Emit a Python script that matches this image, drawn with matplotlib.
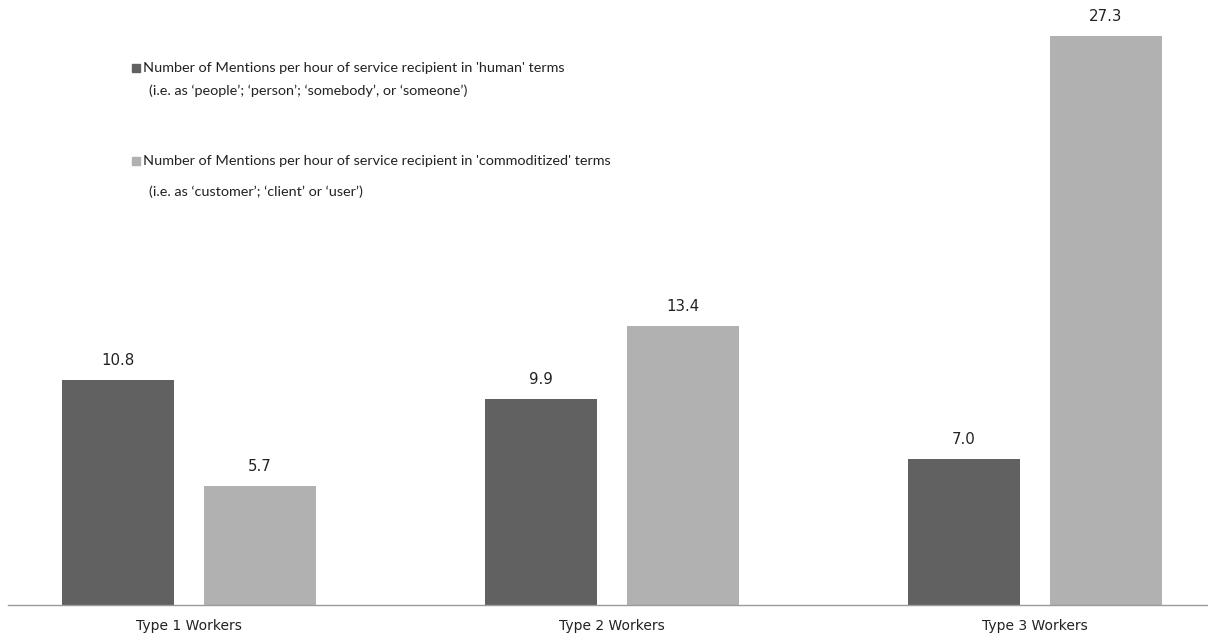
import matplotlib
matplotlib.use("Agg")
import matplotlib.pyplot as plt
import numpy as np
from matplotlib.patches import Rectangle

# Data
categories = ["Type 1 Workers", "Type 2 Workers", "Type 3 Workers"]
human_terms = [10.8, 9.9, 7.0]
commoditized_terms = [5.7, 13.4, 27.3]
legend_lines = [
    ("Number of Mentions per hour of service recipient in 'human' terms",
     "(i.e. as \u2018people\u2019; \u2018person\u2019; \u2018somebody\u2019, or \u2018someone\u2019)"),
    ("Number of Mentions per hour of service recipient in 'commoditized' terms",
     "(i.e. as \u2018customer\u2019; \u2018client\u2019 or \u2018user\u2019)"),
]

dark = "#616161"
light = "#b1b1b1"

fig = plt.figure(figsize=(12.08, 6.39), dpi=100)
ax = fig.add_axes([8 / 1208, 34 / 639, 1 - 8 / 1208, 1 - 34 / 639])

x = np.arange(len(categories))
width = 0.265
offset = 0.168
b1 = ax.bar(x - offset, human_terms, width, color=dark)
b2 = ax.bar(x + offset, commoditized_terms, width, color=light)

for bars, vals in ((b1, human_terms), (b2, commoditized_terms)):
    for rect, v in zip(bars, vals):
        ax.annotate(f"{v:.1f}", (rect.get_x() + rect.get_width() / 2, v),
                    xytext=(0, 14), textcoords="offset points",
                    ha="center", va="center", fontsize=10.8,
                    family="DejaVu Sans", color="#222222")

ax.set_xlim(-0.428, 2.41)
ax.set_ylim(0, 29.03)
ax.set_xticks(x)
ax.set_xticklabels(categories, fontsize=10, family="DejaVu Sans", color="#222222")
ax.tick_params(axis="x", length=0, pad=10)
ax.set_yticks([])
for side in ("left", "right", "top"):
    ax.spines[side].set_visible(False)
ax.spines["bottom"].set_color("#9a9a9a")
ax.spines["bottom"].set_linewidth(1.0)

# Legend drawn as figure-level boxes and text
W, H = 1208, 639
entries = [(dark, 68, 91), (light, 161, 192)]
for (col, y1, y2), (t1, t2) in zip(entries, legend_lines):
    fig.add_artist(Rectangle((132 / W, 1 - (y1 + 4) / H), 8 / W, 8 / H,
                             transform=fig.transFigure, color=col))
    fig.text(143 / W, 1 - y1 / H, t1, ha="left", va="center",
             fontsize=10.4, family="Lato", color="#222222")
    fig.text(149 / W, 1 - y2 / H, t2, ha="left", va="center",
             fontsize=10.4, family="Lato", color="#222222")

fig.savefig("out.png", dpi=100, facecolor="white")
